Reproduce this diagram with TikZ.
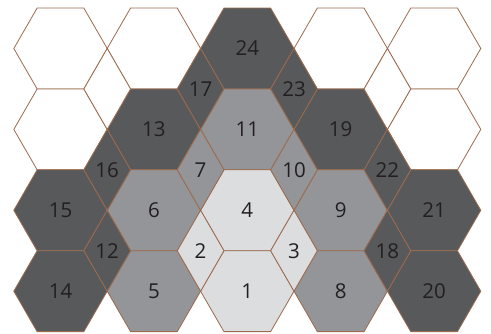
\documentclass[tikz,border=0pt]{standalone}
\usepackage{fontspec}
\setmainfont{Open Sans}
\usepackage{xcolor}
\definecolor{cellDark}{HTML}{58595B}
\definecolor{cellMid}{HTML}{939598}
\definecolor{cellLight}{HTML}{DCDDDE}
\definecolor{cellEdge}{HTML}{9C6B4E}
\definecolor{numText}{HTML}{231F20}

% half width, half height of a cell
\newcommand{\cellR}{46.7}
\newcommand{\cellH}{40.45}

\begin{document}
\begin{tikzpicture}[
  x=1pt, y=-1pt,
  cell/.style={draw=cellEdge, line width=0.8pt},
  num/.style={font=\fontsize{20.5}{20.5}\selectfont, text=numText, inner sep=0pt}
]
\useasboundingbox (0,0) rectangle (491,334);

% hexagons: column/row/fill/label
\foreach \c/\r/\col/\lab in {1/1/white/{}, 1/2/white/{}, 1/3/cellDark/15, 1/4/cellDark/14,
    2/1/white/{}, 2/2/cellDark/13, 2/3/cellMid/6, 2/4/cellMid/5,
    3/1/cellDark/24, 3/2/cellMid/11, 3/3/cellLight/4, 3/4/cellLight/1,
    4/1/white/{}, 4/2/cellDark/19, 4/3/cellMid/9, 4/4/cellMid/8,
    5/1/white/{}, 5/2/white/{}, 5/3/cellDark/21, 5/4/cellDark/20}{
  \pgfmathsetmacro{\cx}{60.5+93.4*(\c-1)}
  \pgfmathsetmacro{\cy}{48.5+80.9*(\r-1)}
  \filldraw[cell, fill=\col] (\cx-\cellR,\cy) -- (\cx-\cellR/2,\cy-\cellH) -- (\cx+\cellR/2,\cy-\cellH)
    -- (\cx+\cellR,\cy) -- (\cx+\cellR/2,\cy+\cellH) -- (\cx-\cellR/2,\cy+\cellH) -- cycle;
  \node[num] (hex\c\r) at (\cx,\cy) {\lab};
}

% rhombi between columns c and c+1, rows r and r+1
\foreach \c/\r/\col/\lab in {1/1/white/{}, 1/2/cellDark/16, 1/3/cellDark/12,
    2/1/cellDark/17, 2/2/cellMid/7, 2/3/cellLight/2,
    3/1/cellDark/23, 3/2/cellMid/10, 3/3/cellLight/3,
    4/1/white/{}, 4/2/cellDark/22, 4/3/cellDark/18}{
  \pgfmathsetmacro{\cx}{60.5+93.4*(\c-1)+\cellR}
  \pgfmathsetmacro{\cy}{48.5+80.9*(\r-1)+\cellH}
  \filldraw[cell, fill=\col] (\cx,\cy-\cellH) -- (\cx+\cellR/2,\cy) -- (\cx,\cy+\cellH)
    -- (\cx-\cellR/2,\cy) -- cycle;
  \node[num] (rh\c\r) at (\cx,\cy) {\lab};
}
\end{tikzpicture}
\end{document}
